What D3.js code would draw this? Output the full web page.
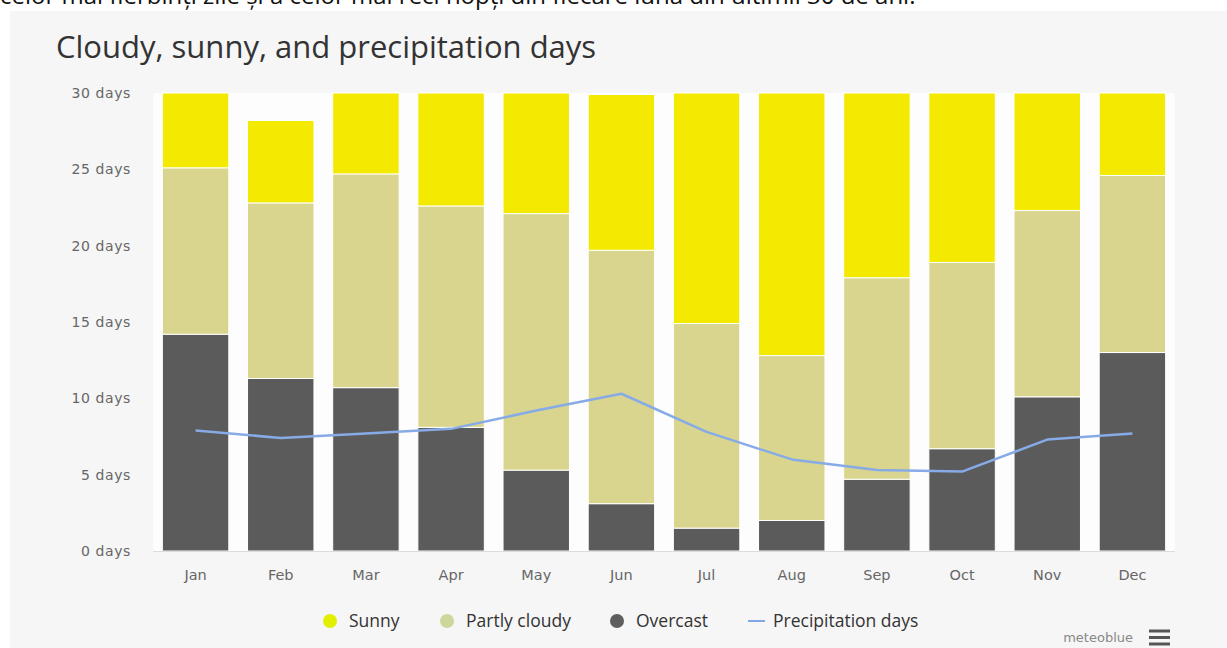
<html>
<head>
<style>
body
{
  margin:0;
  background:#fff;
  overflow:hidden;
}
</style>
<script src="https://cdnjs.cloudflare.com/ajax/libs/d3/7.8.5/d3.min.js"></script>
</head>
<body>
<script>
var months = ["Jan","Feb","Mar","Apr","May","Jun","Jul","Aug","Sep","Oct","Nov","Dec"];
var overcast = [14.2, 11.3, 10.7, 8.1, 5.3, 3.1, 1.5, 2.0, 4.7, 6.7, 10.1, 13.0];
var partly   = [10.9, 11.5, 14.0, 14.5, 16.8, 16.6, 13.4, 10.8, 13.2, 12.2, 12.2, 11.6];
var sunny    = [4.9, 5.4, 5.3, 7.4, 7.9, 10.2, 15.1, 17.2, 12.1, 11.1, 7.7, 5.4];
var precip   = [7.9, 7.4, 7.7, 8.0, 9.2, 10.3, 7.8, 6.0, 5.3, 5.2, 7.3, 7.7];
var yTicks = [0, 5, 10, 15, 20, 25, 30];

var W = 1227, H = 648;
var svg = d3.select("body").append("svg")
  .attr("width", W).attr("height", H);

// cut-off line of text above the chart
svg.append("text")
  .attr("x", 0).attr("y", 4)
  .style("font-family", "Open Sans, sans-serif")
  .style("font-size", "24px")
  .style("fill", "#111")
  .text("celor mai fierbinți zile și a celor mai reci nopți din fiecare lună din ultimii 30 de ani.");

svg.append("rect")
  .attr("x", 10).attr("y", 11)
  .attr("width", W - 10).attr("height", H - 11)
  .style("fill", "#f6f6f6");

svg.append("text")
  .attr("x", 56).attr("y", 58)
  .style("font-family", "Open Sans, sans-serif")
  .style("font-size", "31px")
  .style("fill", "#333")
  .text("Cloudy, sunny, and precipitation days");

var plotL = 153, plotR = 1175, plotT = 93, plotB = 551;

var x = d3.scaleBand().domain(months).range([plotL, plotR]).paddingInner(0.22).paddingOuter(0.11);
var y = d3.scaleLinear().domain([0, 30]).range([plotB, plotT]);

svg.append("rect")
  .attr("x", plotL).attr("y", plotT)
  .attr("width", plotR - plotL).attr("height", plotB - plotT)
  .style("fill", "#fdfdfd");

// y axis labels
svg.selectAll(".ylab").data(yTicks).enter().append("text")
  .attr("x", 131).attr("y", function(d){ return y(d) + 5; })
  .attr("text-anchor", "end")
  .style("font-family", "DejaVu Sans, sans-serif")
  .style("font-size", "14px")
  .style("letter-spacing", "0.6px")
  .style("fill", "#666")
  .text(function(d){ return d + " days"; });

// stacked bars
var table = months.map(function(m, i){
  return {month: m, overcast: overcast[i], partly: partly[i], sunny: sunny[i]};
});
var keys = ["overcast", "partly", "sunny"];
var colors = {overcast: "#5b5b5b", partly: "#d9d48e", sunny: "#f4e900"};
var stack = d3.stack().keys(keys)(table);

svg.selectAll(".layer").data(stack).enter().append("g")
  .style("fill", function(d){ return colors[d.key]; })
  .selectAll("rect").data(function(d){ return d; }).enter().append("rect")
  .attr("x", function(d){ return x(d.data.month); })
  .attr("width", x.bandwidth())
  .attr("y", function(d){ return y(d[1]); })
  .attr("height", function(d){ return y(d[0]) - y(d[1]); })
  .style("stroke", "#fff")
  .style("stroke-width", 1);

// x axis line
svg.append("line")
  .attr("x1", plotL).attr("x2", plotR)
  .attr("y1", plotB + 0.5).attr("y2", plotB + 0.5)
  .style("stroke", "#dcdcdc");

svg.selectAll(".xlab").data(months).enter().append("text")
  .attr("x", function(d){ return x(d) + x.bandwidth() / 2; })
  .attr("y", 580)
  .attr("text-anchor", "middle")
  .style("font-family", "DejaVu Sans, sans-serif")
  .style("font-size", "14.5px")
  .style("fill", "#666")
  .text(function(d){ return d; });

// precipitation line
var line = d3.line()
  .x(function(d, i){ return x(months[i]) + x.bandwidth() / 2; })
  .y(function(d){ return y(d); });
svg.append("path")
  .datum(precip)
  .attr("d", line)
  .style("fill", "none")
  .style("stroke", "#86abe6")
  .style("stroke-width", 2.5)
  .style("stroke-linejoin", "round");

// legend
var legend = [
  {label: "Sunny", color: "#e2f000", type: "dot", x: 330},
  {label: "Partly cloudy", color: "#cdd79c", type: "dot", x: 447},
  {label: "Overcast", color: "#5e5e5e", type: "dot", x: 617},
  {label: "Precipitation days", color: "#82a8e4", type: "line", x: 756}
];
var lg = svg.selectAll(".leg").data(legend).enter().append("g");
lg.each(function(d){
  var g = d3.select(this);
  if(d.type == "dot")
  {
    g.append("circle").attr("cx", d.x).attr("cy", 621).attr("r", 7).style("fill", d.color);
  }
  else
  {
    g.append("line").attr("x1", d.x - 8).attr("x2", d.x + 9).attr("y1", 621).attr("y2", 621)
      .style("stroke", d.color).style("stroke-width", 2);
  }
  g.append("text")
    .attr("x", d.x + (d.type == "dot" ? 19 : 17)).attr("y", 627)
    .style("font-family", "Open Sans, sans-serif")
    .style("font-size", "17.5px")
    .style("fill", "#333")
    .text(d.label);
});

// credits
svg.append("text")
  .attr("x", 1133).attr("y", 642)
  .attr("text-anchor", "end")
  .style("font-family", "DejaVu Sans, sans-serif")
  .style("font-size", "13px")
  .style("fill", "#888")
  .text("meteoblue");

[631, 637.5, 644].forEach(function(yy){
  svg.append("rect").attr("x", 1149).attr("y", yy - 1.5).attr("width", 21).attr("height", 3)
    .style("fill", "#555");
});
</script>
</body>
</html>
